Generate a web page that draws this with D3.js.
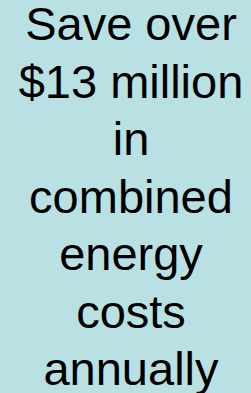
<!DOCTYPE html>
<html>
<head>
<meta charset="utf-8">
<script src="https://cdn.jsdelivr.net/npm/d3@7"></script>
<style>
  html, body { margin: 0; padding: 0; background: #b9e0e3; }
</style>
</head>
<body>
<svg id="chart"></svg>
<script>
const lines = ["Save over", "$13 million", "in", "combined", "energy", "costs", "annually"];

const width = 251, height = 393;
const svg = d3.select("#chart").attr("width", width).attr("height", height);

svg.append("rect").attr("width", width).attr("height", height).attr("fill", "#b9e0e3");

// baseline positions, one per line
const y = d3.scalePoint()
  .domain(d3.range(lines.length))
  .range([40, 385]);

svg.selectAll("text.line")
  .data(lines)
  .enter()
  .append("text")
  .attr("class", "line")
  .attr("x", 131)
  .attr("y", (d, i) => y(i))
  .attr("text-anchor", "middle")
  .style("font-family", "'Liberation Sans', Arial, sans-serif")
  .style("font-size", "47px")
  .style("fill", "#000")
  .text(d => d);
</script>
</body>
</html>
